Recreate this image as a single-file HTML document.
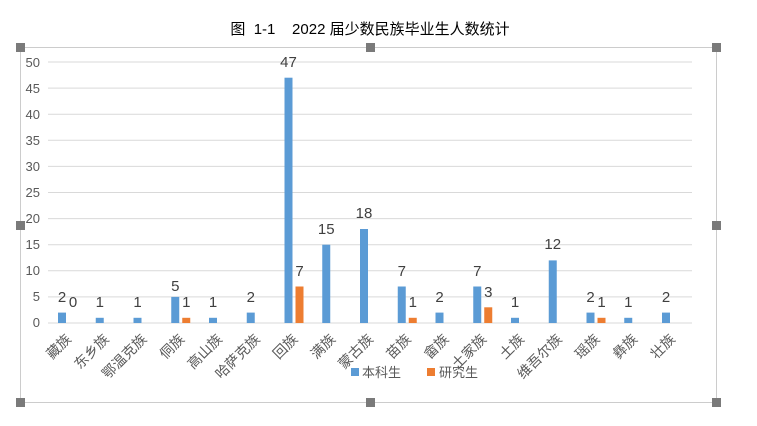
<!DOCTYPE html>
<html><head><meta charset="utf-8"><style>
body{margin:0;background:#fff;}
svg{display:block;font-family:"Liberation Sans","Noto Sans CJK SC",sans-serif;}
</style></head><body>
<svg width="757" height="426" viewBox="0 0 757 426" xmlns="http://www.w3.org/2000/svg">
<text x="370" y="34" font-size="15" text-anchor="middle" fill="#000" style="white-space:pre">图  1-1    2022 届少数民族毕业生人数统计</text>
<rect x="20.5" y="47.5" width="696" height="355" fill="none" stroke="#999" stroke-dasharray="1,1"/>
<g fill="#7a7a7a">
<rect x="16" y="43" width="9" height="9"/><rect x="366" y="43" width="9" height="9"/><rect x="712" y="43" width="9" height="9"/>
<rect x="16" y="221" width="9" height="9"/><rect x="712" y="221" width="9" height="9"/>
<rect x="16" y="398" width="9" height="9"/><rect x="366" y="398" width="9" height="9"/><rect x="712" y="398" width="9" height="9"/>
</g>
<g stroke="#d9d9d9" stroke-width="1">
<line x1="48" x2="692" y1="62" y2="62"/><line x1="48" x2="692" y1="88.1" y2="88.1"/><line x1="48" x2="692" y1="114.2" y2="114.2"/><line x1="48" x2="692" y1="140.3" y2="140.3"/><line x1="48" x2="692" y1="166.4" y2="166.4"/><line x1="48" x2="692" y1="192.5" y2="192.5"/><line x1="48" x2="692" y1="218.6" y2="218.6"/><line x1="48" x2="692" y1="244.7" y2="244.7"/><line x1="48" x2="692" y1="270.8" y2="270.8"/><line x1="48" x2="692" y1="296.9" y2="296.9"/><line x1="48" x2="692" y1="323" y2="323"/>
</g>
<g font-size="13" fill="#595959" text-anchor="end">
<text x="40" y="67">50</text><text x="40" y="93">45</text><text x="40" y="119">40</text><text x="40" y="145">35</text><text x="40" y="171">30</text><text x="40" y="197">25</text><text x="40" y="223">20</text><text x="40" y="249">15</text><text x="40" y="275">10</text><text x="40" y="301">5</text><text x="40" y="327">0</text>
</g>
<g fill="#5b9bd5">
<rect x="58" y="312.6" width="8" height="10.4"/>
<rect x="95.75" y="317.8" width="8" height="5.2"/>
<rect x="133.5" y="317.8" width="8" height="5.2"/>
<rect x="171.25" y="296.9" width="8" height="26.1"/>
<rect x="209" y="317.8" width="8" height="5.2"/>
<rect x="246.75" y="312.6" width="8" height="10.4"/>
<rect x="284.5" y="77.7" width="8" height="245.3"/>
<rect x="322.25" y="244.7" width="8" height="78.3"/>
<rect x="360" y="229" width="8" height="94"/>
<rect x="397.75" y="286.5" width="8" height="36.5"/>
<rect x="435.5" y="312.6" width="8" height="10.4"/>
<rect x="473.25" y="286.5" width="8" height="36.5"/>
<rect x="511" y="317.8" width="8" height="5.2"/>
<rect x="548.75" y="260.4" width="8" height="62.6"/>
<rect x="586.5" y="312.6" width="8" height="10.4"/>
<rect x="624.25" y="317.8" width="8" height="5.2"/>
<rect x="662" y="312.6" width="8" height="10.4"/>
</g>
<g fill="#ed7d31">
<rect x="182.25" y="317.8" width="8" height="5.2"/>
<rect x="295.5" y="286.5" width="8" height="36.5"/>
<rect x="408.75" y="317.8" width="8" height="5.2"/>
<rect x="484.25" y="307.3" width="8" height="15.7"/>
<rect x="597.5" y="317.8" width="8" height="5.2"/>
</g>
<g font-size="15" fill="#404040" text-anchor="middle">
<text x="62" y="302">2</text><text x="73" y="307">0</text>
<text x="99.75" y="307">1</text><text x="137.5" y="307">1</text>
<text x="175.25" y="291">5</text><text x="186.25" y="307">1</text>
<text x="213" y="307">1</text><text x="250.75" y="302">2</text>
<text x="288.5" y="67">47</text><text x="299.5" y="276">7</text>
<text x="326.25" y="234">15</text><text x="364" y="218">18</text>
<text x="401.75" y="276">7</text><text x="412.75" y="307">1</text>
<text x="439.5" y="302">2</text>
<text x="477.25" y="276">7</text><text x="488.25" y="297">3</text>
<text x="515" y="307">1</text><text x="552.75" y="249">12</text>
<text x="590.5" y="302">2</text><text x="601.5" y="307">1</text>
<text x="628.25" y="307">1</text><text x="666" y="302">2</text>
</g>
<g font-size="14" fill="#595959" text-anchor="end">
<text transform="translate(72,340) rotate(-45)">藏族</text>
<text transform="translate(109.75,340) rotate(-45)">东乡族</text>
<text transform="translate(147.5,340) rotate(-45)">鄂温克族</text>
<text transform="translate(185.25,340) rotate(-45)">侗族</text>
<text transform="translate(223,340) rotate(-45)">高山族</text>
<text transform="translate(260.75,340) rotate(-45)">哈萨克族</text>
<text transform="translate(298.5,340) rotate(-45)">回族</text>
<text transform="translate(336.25,340) rotate(-45)">满族</text>
<text transform="translate(374,340) rotate(-45)">蒙古族</text>
<text transform="translate(411.75,340) rotate(-45)">苗族</text>
<text transform="translate(449.5,340) rotate(-45)">畲族</text>
<text transform="translate(487.25,340) rotate(-45)">土家族</text>
<text transform="translate(525,340) rotate(-45)">土族</text>
<text transform="translate(562.75,340) rotate(-45)">维吾尔族</text>
<text transform="translate(600.5,340) rotate(-45)">瑶族</text>
<text transform="translate(638.25,340) rotate(-45)">彝族</text>
<text transform="translate(676,340) rotate(-45)">壮族</text>
</g>
<rect x="351" y="368" width="8" height="8" fill="#5b9bd5"/>
<text x="362" y="377" font-size="13" fill="#595959">本科生</text>
<rect x="427" y="368" width="8" height="8" fill="#ed7d31"/>
<text x="439" y="377" font-size="13" fill="#595959">研究生</text>
</svg>
</body></html>
